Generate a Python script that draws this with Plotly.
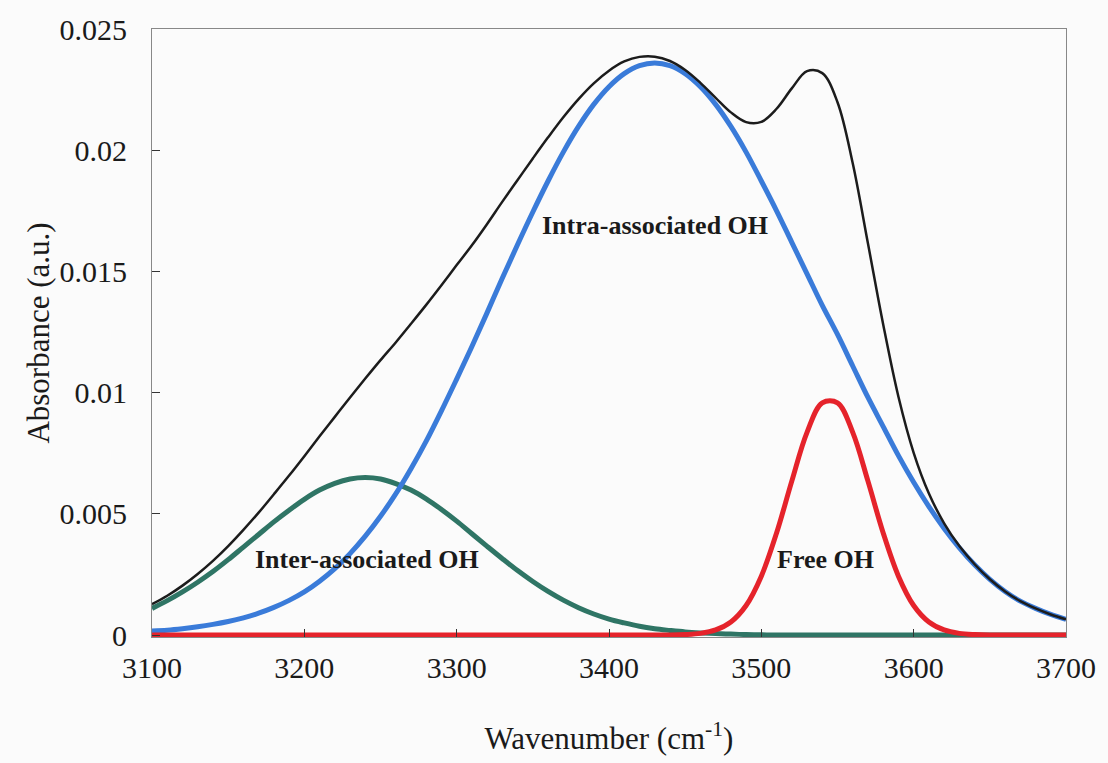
import plotly.graph_objects as go

wavenumber = list(range(3100, 3701, 10))

inter_oh = [0.00110, 0.00142, 0.00178, 0.00218, 0.00262, 0.00311, 0.00363, 0.00415, 0.00467, 0.00515,
            0.00560, 0.00598, 0.00626, 0.00644, 0.00650, 0.00644, 0.00625, 0.00598, 0.00562, 0.00518,
            0.00470, 0.00418, 0.00366, 0.00315, 0.00266, 0.00221, 0.00180, 0.00144, 0.00113, 0.00087,
            0.00066, 0.00050, 0.00036, 0.00026, 0.00019, 0.00013, 0.00009, 0.00006, 0.00004, 0.00002,
            0.00001, 0, 0, 0, 0, 0, 0, 0, 0, 0,
            0, 0, 0, 0, 0, 0, 0, 0, 0, 0, 0]

intra_oh = [0.00017, 0.00020, 0.00026, 0.00034, 0.00044, 0.00056, 0.00071, 0.00090, 0.00114, 0.00143,
            0.00178, 0.00222, 0.00274, 0.00336, 0.00408, 0.00490, 0.00582, 0.00686, 0.00800, 0.00925,
            0.01056, 0.01190, 0.01330, 0.01473, 0.01611, 0.01745, 0.01873, 0.01992, 0.02098, 0.02189,
            0.02262, 0.02316, 0.02349, 0.02360, 0.02349, 0.02316, 0.02262, 0.02189, 0.02098, 0.01992,
            0.01873, 0.01750, 0.01620, 0.01490, 0.01360, 0.01240, 0.01110, 0.00980, 0.00860, 0.00740,
            0.00630, 0.00530, 0.00440, 0.00360, 0.00290, 0.00230, 0.00180, 0.00140, 0.00110, 0.00085, 0.00065]

free_oh = [0, 0, 0, 0, 0, 0, 0, 0, 0, 0,
           0, 0, 0, 0, 0, 0, 0, 0, 0, 0,
           0, 0, 0, 0, 0, 0, 0, 0, 0, 0,
           0, 0, 0, 0, 0, 0.00002, 0.00007, 0.00021, 0.00054, 0.00122,
           0.00243, 0.00421, 0.00635, 0.00836, 0.00958, 0.00958, 0.00836, 0.00635, 0.00421, 0.00243,
           0.00122, 0.00054, 0.00021, 0.00007, 0.00002, 0, 0, 0, 0, 0, 0]

total = [0.00127, 0.00162, 0.00204, 0.00252, 0.00306, 0.00367, 0.00434, 0.00505, 0.00581, 0.00658,
         0.00738, 0.00820, 0.00900, 0.00980, 0.01058, 0.01134, 0.01207, 0.01284, 0.01362, 0.01443,
         0.01526, 0.01608, 0.01696, 0.01788, 0.01877, 0.01966, 0.02053, 0.02136, 0.02211, 0.02276,
         0.02328, 0.02366, 0.02385, 0.02386, 0.02368, 0.02331, 0.02278, 0.02216, 0.02156, 0.02116,
         0.02117, 0.02171, 0.02255, 0.02326, 0.02318, 0.02198, 0.01946, 0.01615, 0.01281, 0.00983,
         0.00752, 0.00584, 0.00461, 0.00367, 0.00292, 0.00230, 0.00180, 0.00140, 0.00110, 0.00085, 0.00065]

x_ticks = [3100, 3200, 3300, 3400, 3500, 3600, 3700]
y_ticks = [0, 0.005, 0.01, 0.015, 0.02, 0.025]
y_tick_labels = ["0", "0.005", "0.01", "0.015", "0.02", "0.025"]

labels = [
    ("Intra-associated OH", 3430, 0.0169),
    ("Inter-associated OH", 3241, 0.0031),
    ("Free OH", 3542, 0.0031),
]

FONT = "Liberation Serif, Times New Roman, serif"

fig = go.Figure()
fig.add_trace(go.Scatter(x=wavenumber, y=inter_oh, mode="lines", line=dict(color="#2f7565", width=5, shape="spline"), name="Inter-associated OH"))
fig.add_trace(go.Scatter(x=wavenumber, y=intra_oh, mode="lines", line=dict(color="#3a7bd9", width=5, shape="spline"), name="Intra-associated OH"))
fig.add_trace(go.Scatter(x=wavenumber, y=free_oh, mode="lines", line=dict(color="#e5232b", width=5, shape="spline"), name="Free OH"))
fig.add_trace(go.Scatter(x=wavenumber, y=total, mode="lines", line=dict(color="#1c1c1c", width=2.5, shape="spline"), name="Total"))

for text, xv, yv in labels:
    fig.add_annotation(x=xv, y=yv, text="<b>" + text + "</b>", showarrow=False,
                       font=dict(family=FONT, size=26, color="#1a1a1a"))

fig.update_layout(
    width=1108, height=763,
    margin=dict(l=152, r=36, t=28, b=126),
    paper_bgcolor="#fbfbfb", plot_bgcolor="#fbfbfb",
    showlegend=False,
    font=dict(family=FONT, size=30, color="#1a1a1a"),
)
fig.update_xaxes(
    range=[3100, 3700], tickvals=x_ticks, ticks="inside", ticklen=8, tickcolor="#333",
    showline=True, linecolor="#888", linewidth=1, mirror=True, showgrid=False, zeroline=False,
    tickfont=dict(family=FONT, size=30), ticklabelstandoff=4,
    title=dict(text="Wavenumber (cm<sup>-1</sup>)", font=dict(family=FONT, size=31), standoff=44),
)
fig.update_yaxes(
    range=[-0.00008, 0.025], tickvals=y_ticks, ticktext=y_tick_labels, ticks="inside", ticklen=8, tickcolor="#333",
    showline=True, linecolor="#888", linewidth=1, mirror=True, showgrid=False, zeroline=False,
    tickfont=dict(family=FONT, size=30), ticklabelstandoff=18,
    title=dict(text="Absorbance (a.u.)", font=dict(family=FONT, size=31), standoff=0),
)

fig.write_html("out.html")
